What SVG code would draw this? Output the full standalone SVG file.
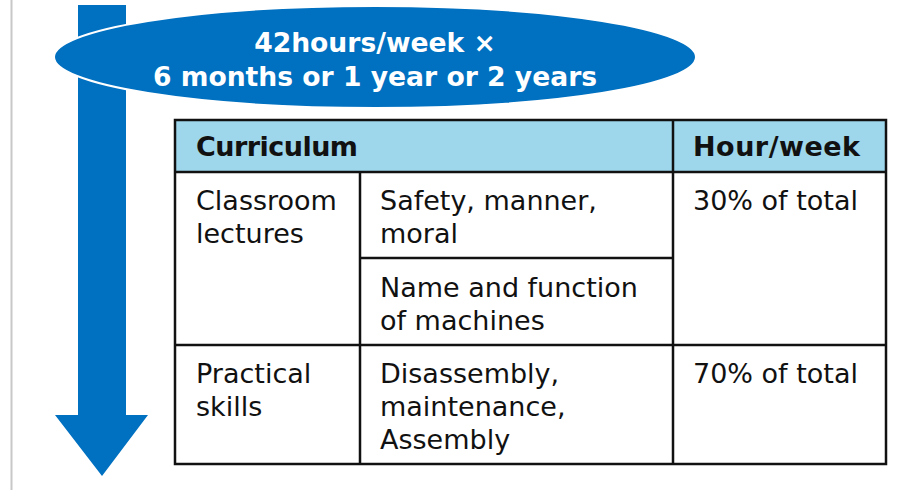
<svg xmlns="http://www.w3.org/2000/svg" width="909" height="490" viewBox="0 0 909 490">
<style>
.t{font-family:"DejaVu Sans","Liberation Sans",sans-serif;font-size:27px;fill:#111}
.b{font-weight:bold}
.w{fill:#fff;font-weight:bold;font-size:26.6px}
.ln{stroke:#111;stroke-width:2.5;fill:none}
</style>
<rect width="909" height="490" fill="#fff"/>
<line x1="11.5" y1="0" x2="11.5" y2="490" stroke="#c8c8c8" stroke-width="2"/>
<g id="arrow">
<path d="M78,5 H126 V415 H148 L102,476 L55,415 H78 Z" fill="#0070C0"/>
</g>
<g id="ellipse">
<ellipse cx="375" cy="57" rx="321" ry="51" fill="#0070C0" stroke="#fff" stroke-width="2"/>
<text class="t w" x="375" y="52" text-anchor="middle">42hours/week ×</text>
<text class="t w" x="375" y="86" text-anchor="middle">6 months or 1 year or 2 years</text>
</g>
<g id="table">
<rect x="175" y="120" width="711" height="52" fill="#9ED6EB"/>
<rect x="175" y="120" width="711" height="344" class="ln"/>
<line x1="175" y1="172" x2="886" y2="172" class="ln"/>
<line x1="673" y1="120" x2="673" y2="464" class="ln"/>
<line x1="360" y1="172" x2="360" y2="464" class="ln"/>
<line x1="360" y1="258" x2="673" y2="258" class="ln"/>
<line x1="175" y1="345" x2="886" y2="345" class="ln"/>
<text class="t b" x="196" y="156" textLength="162">Curriculum</text>
<text class="t b" x="693" y="156" textLength="167">Hour/week</text>
<text class="t" x="196" y="210">Classroom</text>
<text class="t" x="196" y="243">lectures</text>
<text class="t" x="380" y="210">Safety, manner,</text>
<text class="t" x="380" y="243">moral</text>
<text class="t" x="380" y="297">Name and function</text>
<text class="t" x="380" y="330">of machines</text>
<text class="t" x="693" y="210">30% of total</text>
<text class="t" x="196" y="383">Practical</text>
<text class="t" x="196" y="416">skills</text>
<text class="t" x="380" y="383">Disassembly,</text>
<text class="t" x="380" y="416">maintenance,</text>
<text class="t" x="380" y="449">Assembly</text>
<text class="t" x="693" y="383">70% of total</text>
</g>
</svg>
